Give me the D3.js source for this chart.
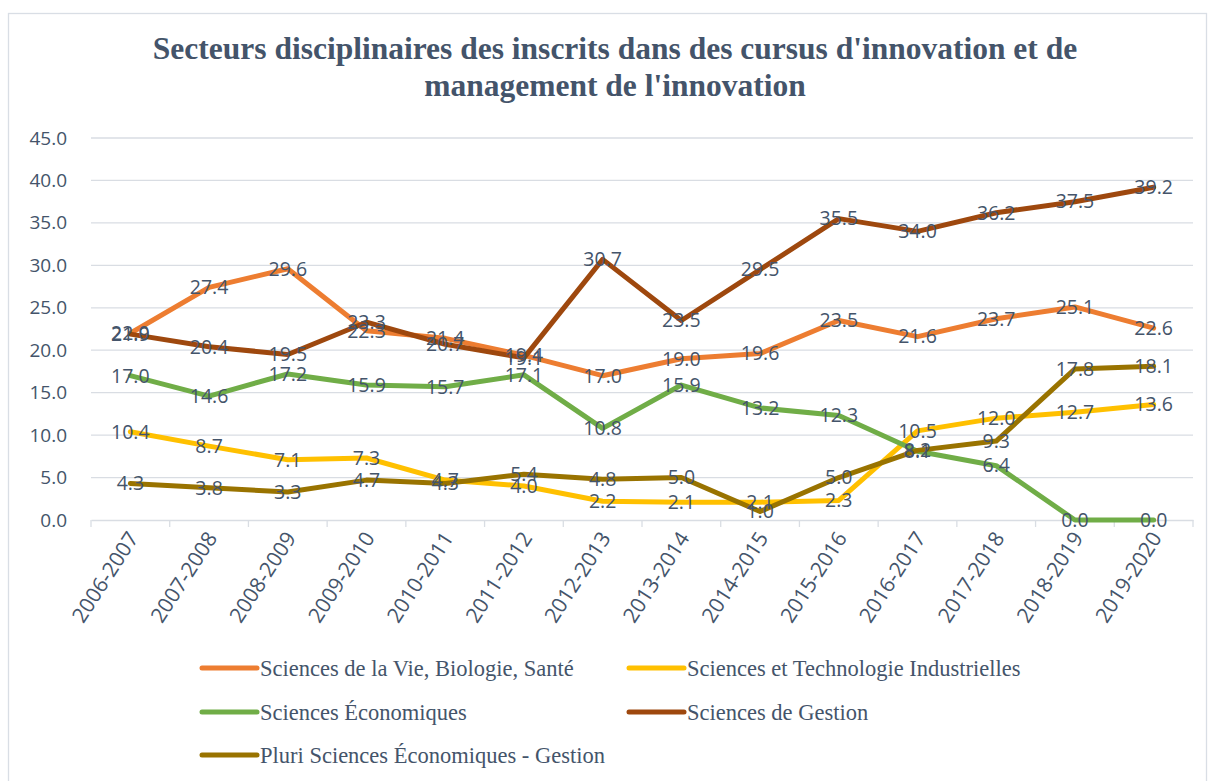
<!DOCTYPE html>
<html lang="fr">
<head>
<meta charset="UTF-8">
<title>Secteurs disciplinaires</title>
<script src="https://d3js.org/d3.v7.min.js"></script>
<style>
  body { margin: 0; background: #fff; }
  .axis text { font-family: "Open Sans", sans-serif; fill: #44546a; }
  .lbl { font-family: "Open Sans", sans-serif; font-size: 19.5px; fill: #44546a; }
</style>
</head>
<body>
<div id="chart"></div>
<script>
// years (x categories)
const years = ["2006-2007","2007-2008","2008-2009","2009-2010","2010-2011","2011-2012","2012-2013",
  "2013-2014","2014-2015","2015-2016","2016-2017","2017-2018","2018-2019","2019-2020"];

const seriesNames = [
  "Sciences de la Vie, Biologie, Santé",
  "Sciences et Technologie Industrielles",
  "Sciences Économiques",
  "Sciences de Gestion",
  "Pluri Sciences Économiques - Gestion"
];
const vieBio   = [22.0, 27.4, 29.6, 22.3, 21.4, 19.4, 17.0, 19.0, 19.6, 23.5, 21.6, 23.7, 25.1, 22.6];
const techInd  = [10.4, 8.7, 7.1, 7.3, 4.7, 4.0, 2.2, 2.1, 2.1, 2.3, 10.5, 12.0, 12.7, 13.6];
const eco      = [17.0, 14.6, 17.2, 15.9, 15.7, 17.1, 10.8, 15.9, 13.2, 12.3, 8.1, 6.4, 0.0, 0.0];
const gestion  = [21.9, 20.4, 19.5, 23.3, 20.7, 19.1, 30.7, 23.5, 29.5, 35.5, 34.0, 36.2, 37.5, 39.2];
const pluri    = [4.3, 3.8, 3.3, 4.7, 4.3, 5.4, 4.8, 5.0, 1.0, 5.0, 8.2, 9.3, 17.8, 18.1];
const colors = ["#ED7D31", "#FFC000", "#70AD47", "#9E480E", "#997300"];
const yTicks = [0, 5, 10, 15, 20, 25, 30, 35, 40, 45];

const allSeries = [vieBio, techInd, eco, gestion, pluri].map((vals, i) => ({
  name: seriesNames[i], color: colors[i], values: vals
}));

const W = 1210, H = 781;
const svg = d3.select("#chart").append("svg").attr("width", W).attr("height", H);

// chart border
svg.append("rect")
  .attr("x", 8.5).attr("y", 13.5).attr("width", W - 12).attr("height", H)
  .attr("fill", "none").attr("stroke", "#d9dee5").attr("stroke-width", 1.3);

const plot = { left: 91, right: 1193, top: 138, bottom: 520 };

const x = d3.scaleBand().domain(years).range([plot.left, plot.right]);
const y = d3.scaleLinear().domain([0, 45]).range([plot.bottom, plot.top]);

// gridlines
svg.append("g").selectAll("line").data(yTicks.slice(1)).join("line")
  .attr("x1", plot.left).attr("x2", plot.right)
  .attr("y1", d => y(d)).attr("y2", d => y(d))
  .attr("stroke", "#d9dde3").attr("stroke-width", 1.3);

// y axis
const yAxis = svg.append("g").attr("class", "axis")
  .attr("transform", `translate(${plot.left - 21},0)`)
  .call(d3.axisLeft(y).tickValues(yTicks).tickFormat(d3.format(".1f")).tickSize(0));
yAxis.select(".domain").remove();
yAxis.selectAll("text").attr("font-size", 19).attr("dx", 0);

// x axis
const xAxis = svg.append("g").attr("class", "axis")
  .attr("transform", `translate(0,${plot.bottom})`)
  .call(d3.axisBottom(x).tickSize(0));
xAxis.select(".domain").attr("stroke", "#d9dde3").attr("stroke-width", 1.3);
xAxis.selectAll(".tick line").remove();
// category boundary ticks
svg.append("g").selectAll("line").data(d3.range(years.length + 1)).join("line")
  .attr("x1", i => plot.left + i * x.step()).attr("x2", i => plot.left + i * x.step())
  .attr("y1", plot.bottom).attr("y2", plot.bottom + 7)
  .attr("stroke", "#d9dde3").attr("stroke-width", 1.3);
xAxis.selectAll("text")
  .attr("font-size", 21)
  .attr("y", 0).attr("dy", 0)
  .attr("text-anchor", "end")
  .attr("transform", "translate(9,18) rotate(-57)");

// lines
const line = d3.line()
  .x((d, i) => x(years[i]) + x.bandwidth() / 2)
  .y(d => y(d));

svg.append("g").selectAll("path").data(allSeries).join("path")
  .attr("fill", "none")
  .attr("stroke", d => d.color)
  .attr("stroke-width", 5)
  .attr("stroke-linejoin", "round")
  .attr("stroke-linecap", "round")
  .attr("d", d => line(d.values));

// data labels
const lblG = svg.append("g");
allSeries.forEach(s => {
  lblG.selectAll(null).data(s.values).join("text")
    .attr("class", "lbl")
    .attr("x", (d, i) => x(years[i]) + x.bandwidth() / 2)
    .attr("y", d => y(d))
    .attr("dy", "0.35em")
    .attr("text-anchor", "middle")
    .text(d => d.toFixed(1));
});

// title
const title = svg.append("text")
  .attr("text-anchor", "middle")
  .attr("font-family", "'Liberation Serif', serif")
  .attr("font-weight", "bold")
  .attr("font-size", 31.5)
  .attr("fill", "#44546a");
title.append("tspan").attr("x", 615).attr("y", 59)
  .text("Secteurs disciplinaires des inscrits dans des cursus d'innovation et de");
title.append("tspan").attr("x", 615).attr("y", 96)
  .text("management de l'innovation");

// legend
const legendPos = [[200, 668], [627, 668], [200, 712], [627, 712], [200, 755]];
const legend = svg.append("g").selectAll("g").data(allSeries).join("g")
  .attr("transform", (d, i) => `translate(${legendPos[i][0]},${legendPos[i][1]})`);
legend.append("line")
  .attr("x1", 2).attr("x2", 57).attr("y1", 0).attr("y2", 0)
  .attr("stroke", d => d.color).attr("stroke-width", 5).attr("stroke-linecap", "round");
legend.append("text")
  .attr("x", 60).attr("y", 0).attr("dy", "0.35em")
  .attr("font-family", "'Liberation Serif', serif")
  .attr("font-size", 22.5)
  .attr("fill", "#44546a")
  .text(d => d.name);
</script>
</body>
</html>
